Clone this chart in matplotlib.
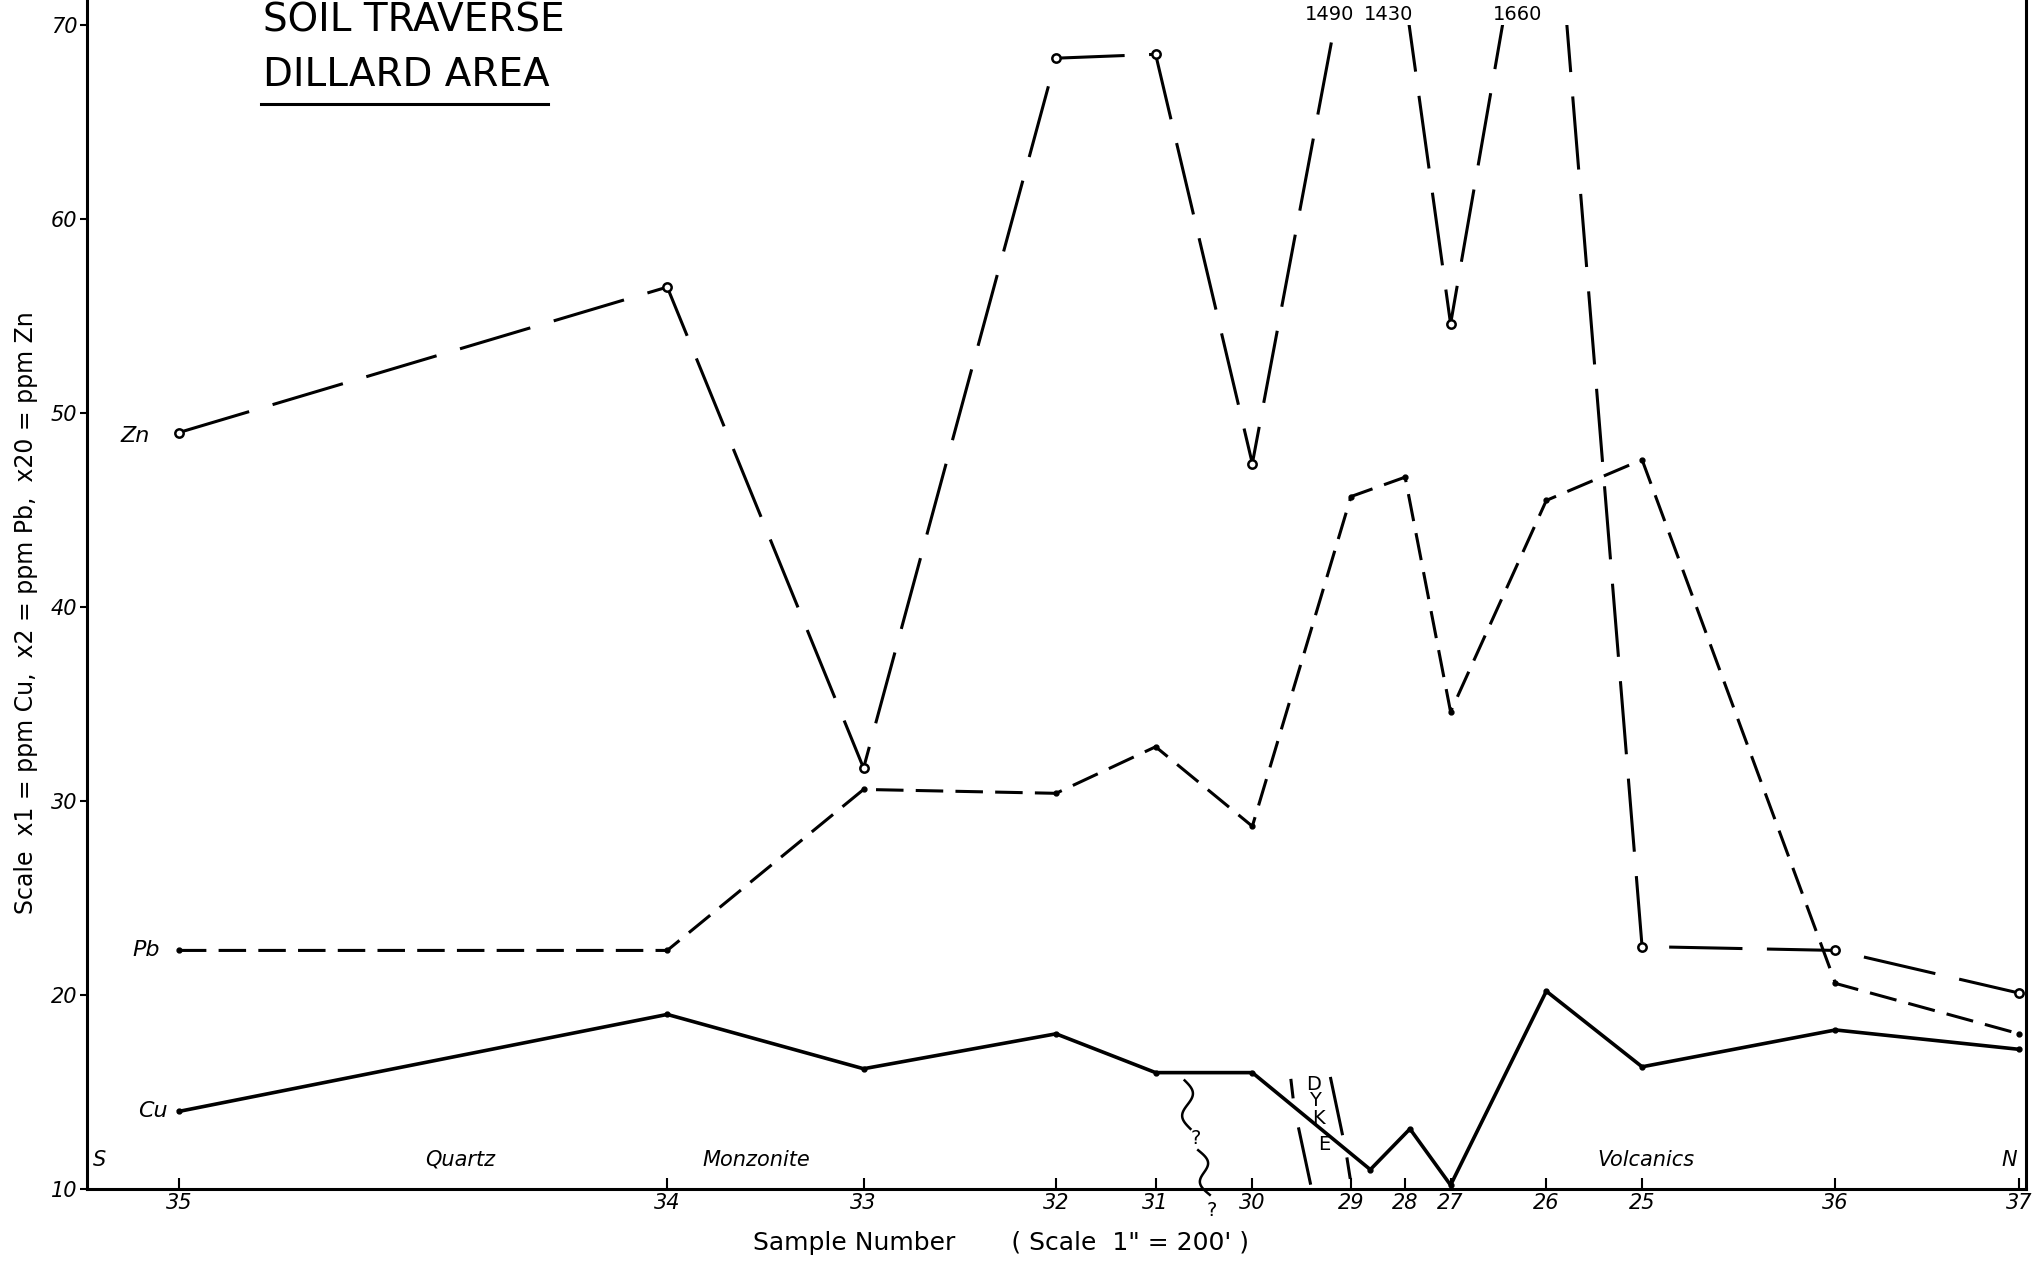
import numpy as np
import matplotlib
matplotlib.use('Agg')
import matplotlib.pyplot as plt
from matplotlib.patches import Rectangle
from matplotlib.lines import Line2D

# sample numbers along the traverse and their distance (ft) from sample 35
samples = ['35', '34', '33', '32', '31', '30', '29', '28', '27', '26', '25', '36', '37']
dist = [0, 505, 708, 907, 1010, 1110, 1212, 1268, 1315, 1414, 1513, 1713, 1903]

# x20 = ppm Zn (1490, 1430, 1660 are off scale)
zn = [49.0, 56.5, 31.7, 68.3, 68.5, 47.4, 74.5, 71.5, 54.6, 83.0, 22.5, 22.3, 20.1]
# x2 = ppm Pb
pb = [22.3, 22.3, 30.6, 30.4, 32.8, 28.7, 45.7, 46.7, 34.6, 45.5, 47.6, 20.6, 18.0]
# x1 = ppm Cu (sample 29 plotted just past the dyke)
cu_dist = [0, 505, 708, 907, 1010, 1110, 1232, 1273, 1315, 1414, 1513, 1713, 1903]
cu = [14.0, 19.0, 16.2, 18.0, 16.0, 16.0, 11.0, 13.1, 10.2, 20.2, 16.3, 18.2, 17.2]

off_scale = [('1490', 1190), ('1430', 1251), ('1660', 1384)]
rocks = [('S', -82), ('Quartz', 291), ('Monzonite', 597), ('Volcanics', 1517), ('N', 1893)]

W, H = 2035, 1264
fig = plt.figure(figsize=(W / 100, H / 100), dpi=100)
ax = fig.add_axes([87 / W, 75 / H, (2026 - 87) / W, 1 - 75 / H])
ax.set_xlim(-95, 1910)
ax.set_ylim(10, 71.3)

# Zn - long dashes, open circles, clipped at the 70 line
zl, = ax.plot(dist, zn, color='k', lw=2.2, dashes=(24, 8), marker='o', ms=6,
              mfc='white', mec='k', mew=1.8)
zl.set_clip_path(Rectangle((-95, 0), 2100, 70, transform=ax.transData))
# Pb - short dashes
ax.plot(dist, pb, color='k', lw=2.2, dashes=(9, 4), marker='o', ms=3.5)
# Cu - solid
ax.plot(cu_dist, cu, color='k', lw=2.6, marker='o', ms=3.5)

for lab, x in off_scale:
    ax.text(x, 70.55, lab, ha='center', va='center', fontsize=14)

# series labels
ax.text(-30, 48.8, 'Zn', ha='right', va='center', fontsize=16, style='italic')
ax.text(-20, 22.3, 'Pb', ha='right', va='center', fontsize=16, style='italic')
ax.text(-12, 14.0, 'Cu', ha='right', va='center', fontsize=16, style='italic')

# rock types
for lab, x in rocks:
    ax.text(x, 11.5, lab, ha='center', va='center', fontsize=15, style='italic')

# dyke
for xs, ys in [([1150, 1152], [15.6, 14.75]), ([1158, 1170], [13.1, 10.3]),
               ([1191, 1203], [15.7, 12.85]), ([1208, 1211], [11.55, 10.6])]:
    ax.plot(xs, ys, color='k', lw=2.2)
for ch, x, y in [('D', 1173, 15.4), ('Y', 1175, 14.55), ('K', 1178, 13.65), ('E', 1184, 12.3)]:
    ax.text(x, y, ch, ha='center', va='center', fontsize=14)

# uncertain contact (wavy line with ?)
t = np.linspace(0, 1, 60)
ax.plot(1040 + 6 * t + 7 * np.sin(2 * np.pi * t), 15.6 - 2.5 * t, color='k', lw=1.8)
ax.plot(1054 + 12 * t + 7 * np.sin(2 * np.pi * t), 12.0 - 2.3 * t, color='k', lw=1.8,
        clip_on=False)
ax.text(1051, 12.6, '?', ha='center', va='center', fontsize=14)
ax.text(1068, 8.9, '?', ha='center', va='center', fontsize=14, clip_on=False)

ax.spines['top'].set_visible(False)
for s in ['left', 'right', 'bottom']:
    ax.spines[s].set_linewidth(2.2)

ax.set_xticks(dist)
ax.set_xticklabels(samples, fontsize=15, style='italic')
ax.tick_params(axis='x', direction='in', length=8, width=1.5, pad=3)
ax.set_yticks(range(10, 71, 10))
ax.set_yticklabels([str(v) for v in range(10, 71, 10)], fontsize=15, style='italic')
ax.tick_params(axis='y', direction='out', length=5, width=1.5, pad=2)

# title block
fig.text(263 / W, 1 - 31 / H, 'SOIL TRAVERSE', fontsize=28, va='baseline')
fig.text(263 / W, 1 - 86 / H, 'DILLARD AREA', fontsize=28, va='baseline')
fig.add_artist(Line2D([261 / W, 548 / W], [1 - 104 / H, 1 - 104 / H],
                      transform=fig.transFigure, color='k', lw=2.2))

fig.text(26 / W, 1 - 613 / H, 'Scale  x1 = ppm Cu,  x2 = ppm Pb,  x20 = ppm Zn',
         rotation=90, ha='center', va='center', fontsize=17)
fig.text(1001 / W, 1 - 1243 / H, 'Sample Number       ( Scale  1" = 200\' )',
         ha='center', va='center', fontsize=18)

fig.savefig('out.png', dpi=100, facecolor='white')
